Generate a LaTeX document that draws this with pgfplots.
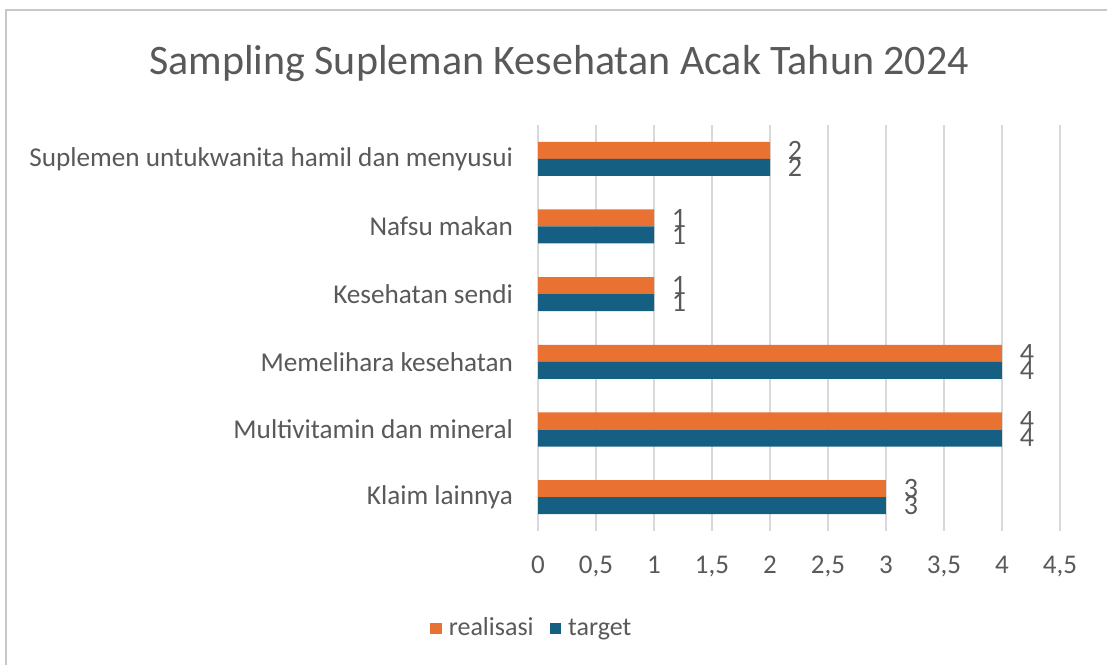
\documentclass[border=0pt]{standalone}
\usepackage{pgfplots}
\pgfplotsset{compat=1.18}
\usepackage{fontspec}
\setmainfont{Carlito}
\definecolor{cOrange}{HTML}{E97132}
\definecolor{cBlue}{HTML}{156082}
\definecolor{cText}{HTML}{595959}
\definecolor{cGrid}{HTML}{D9D9D9}
\begin{document}
\begin{tikzpicture}
\path[use as bounding box] (0pt,0pt) rectangle (553.5pt,332pt);
\draw[line width=1.2pt,color=black!22] (3pt,-20pt) -- (3pt,327pt) -- (560pt,327pt);
\node[text=cText,font=\fontsize{21}{24}\selectfont] at (279.5pt,300pt) {Sampling Supleman Kesehatan Acak Tahun 2024};
\begin{axis}[
  at={(269pt,66.5pt)}, anchor=south west,
  scale only axis, width=261pt, height=203pt,
  xmin=0, xmax=4.5, ymin=-0.5, ymax=5.5,
  xtick={0,0.5,...,4.5},
  ytick={0,1,2,3,4,5},
  yticklabels={Klaim lainnya,Multivitamin dan mineral,Memelihara kesehatan,Kesehatan sendi,Nafsu makan,Suplemen untukwanita hamil dan menyusui},
  axis line style={draw=none},
  major tick length=0pt,
  xmajorgrids, grid style={cGrid,line width=1pt},
  xticklabel style={text=cText,font=\fontsize{13.5}{15}\selectfont,yshift=-9pt,/pgf/number format/.cd,use comma,fixed,assume math mode=true},
  yticklabel style={text=cText,font=\fontsize{13.6}{15}\selectfont,xshift=-9pt},
  xbar, bar width=8.5pt,
  nodes near coords,
  nodes near coords style={text=cText,font=\fontsize{14}{15}\selectfont,anchor=center,xshift=12.5pt,/pgf/number format/assume math mode=true},
  legend style={at={(-0.01,-0.24)},anchor=center,draw=none,legend columns=2,font=\fontsize{13}{15}\selectfont,text=cText,
    /tikz/every odd column/.append style={column sep=1.5pt},
    /tikz/every even column/.append style={column sep=6pt}},
  legend image code/.code={\fill[#1] (0pt,-2.9pt) rectangle (5.8pt,2.9pt);},
]
\addplot[fill=cOrange,draw=none,bar shift=4.25pt] coordinates {(3,0) (4,1) (4,2) (1,3) (1,4) (2,5)};
\addlegendentry{realisasi}
\addplot[fill=cBlue,draw=none,bar shift=-4.25pt] coordinates {(3,0) (4,1) (4,2) (1,3) (1,4) (2,5)};
\addlegendentry{target}
\end{axis}
\end{tikzpicture}
\end{document}
